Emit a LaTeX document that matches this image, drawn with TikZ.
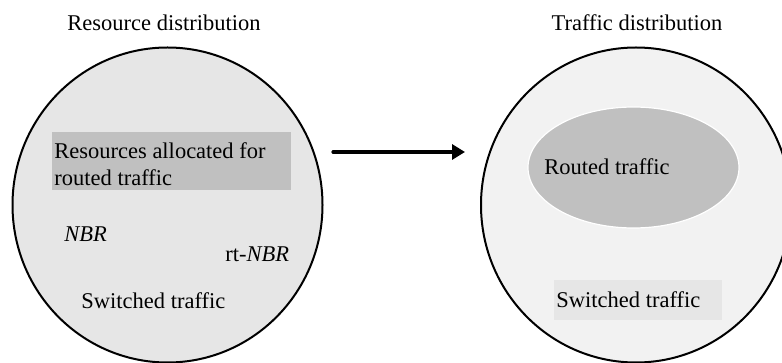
\documentclass[tikz,border=0pt]{standalone}
\usepackage{fontspec}
\setmainfont{Liberation Serif}
\usetikzlibrary{arrows.meta, positioning, shapes.geometric}
\definecolor{areagray}{RGB}{230,230,230}
\definecolor{palegray}{RGB}{242,242,242}
\definecolor{routegray}{RGB}{192,192,192}

\begin{document}
\begin{tikzpicture}[x=0.5pt, y=-0.5pt, font=\fontsize{11.25}{13.2}\selectfont]
      % Styles for the two distributions
      \tikzset{pool/.style={ellipse, draw=black, line width=1pt, inner sep=0pt}}
      \tikzset{routed/.style={fill=routegray, inner sep=0pt}}
      \tikzset{label/.style={inner sep=0pt, anchor=west}}
      \tikzset{flow/.style={-{Triangle[length=6.5pt, width=7.5pt]}, line width=1.6pt, line cap=round}}

      \useasboundingbox (0,0) rectangle (782,363);

      % Titles
      \node (restitle) at (164,23) {Resource distribution};
      \node (traftitle) at (637,23) {Traffic distribution};

      % --- Resource distribution ---
      \node[pool, fill=areagray, minimum width=155pt, minimum height=157.5pt] (res) at (167.5,205) {};
      \node[routed, minimum width=119.5pt, minimum height=29pt] (resbox) at (171.5,161) {};
      \node[label, align=left] (restext) at (54,164) {Resources allocated for\\routed traffic};
      \node[label] (nbr) at (64,234) {\textit{NBR}};
      \node[label] (rtnbr) at (225,254) {rt-\textit{NBR}};
      \node[label] (resswitch) at (81,301) {Switched traffic};

      % Arrow between the two
      \coordinate (from) at (333,152);
      \coordinate (to) at (465,152);
      \draw[flow] (from) -- (to);

      % --- Traffic distribution ---
      \node[pool, fill=palegray, minimum width=155pt, minimum height=157.5pt] (traf) at (636,205) {};
      \node[routed, ellipse, draw=white, line width=0.6pt, minimum width=105.5pt, minimum height=60.5pt] (route) at (633.5,167.5) {};
      \node[label] (routetext) at (544,167) {Routed traffic};
      \node[fill=areagray, minimum width=84pt, minimum height=20pt, inner sep=0pt] (trafbox) at (638,300) {};
      \node[label] (trafswitch) at (556,300) {Switched traffic};
\end{tikzpicture}
\end{document}
